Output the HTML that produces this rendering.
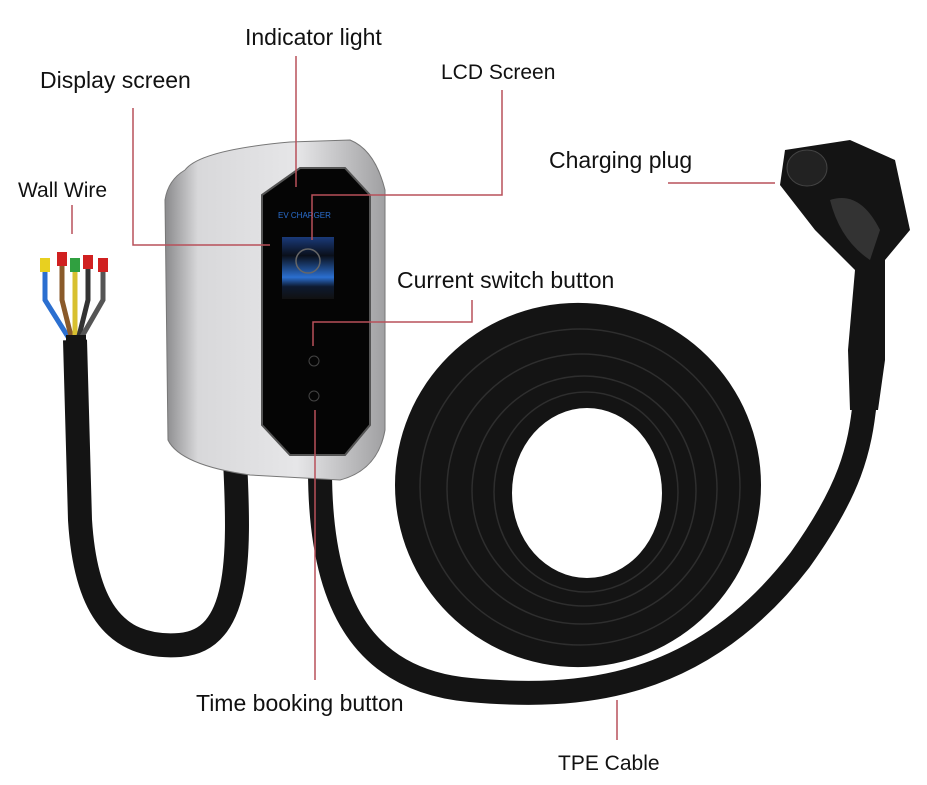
<!DOCTYPE html>
<html><head><meta charset="utf-8"><style>
html,body{margin:0;padding:0;background:#fff;}
svg{display:block;}
text{font-family:"Liberation Sans",Arial,sans-serif;font-size:23px;fill:#111;}
</style></head><body>
<svg width="927" height="785" viewBox="0 0 927 785" xmlns="http://www.w3.org/2000/svg">
<defs>
<linearGradient id="silver" x1="0" x2="1" y1="0" y2="0">
<stop offset="0" stop-color="#8a8a8c"/><stop offset="0.15" stop-color="#d8d8da"/><stop offset="0.6" stop-color="#e6e6e8"/><stop offset="1" stop-color="#a0a0a2"/>
</linearGradient>
<linearGradient id="scr" x1="0" x2="0" y1="0" y2="1">
<stop offset="0" stop-color="#1a3a7a"/><stop offset="0.3" stop-color="#0a0f1a"/><stop offset="0.65" stop-color="#2b6fd0"/><stop offset="0.8" stop-color="#0d1a30"/><stop offset="1" stop-color="#111"/>
</linearGradient>
</defs>
<!-- coil -->
<path fill="#141414" fill-rule="evenodd" d="M395 485 A183 182 0 1 0 761 485 A183 182 0 1 0 395 485 Z M512 493 A75 85 0 1 0 662 493 A75 85 0 1 0 512 493 Z"/>
<g fill="none" stroke="#2e2e2e" stroke-width="1.5">
<ellipse cx="580" cy="487" rx="160" ry="158"/>
<ellipse cx="582" cy="489" rx="135" ry="135"/>
<ellipse cx="584" cy="491" rx="112" ry="115"/>
<ellipse cx="586" cy="492" rx="92" ry="100"/>
</g>
<g fill="none" stroke="#141414" stroke-width="24">
<path d="M320 470 C320 600 360 680 470 690 C580 700 700 690 800 560 C850 490 860 450 865 400"/>
<path d="M235 460 C240 560 240 640 180 645 C110 650 85 600 80 520 L75 340"/>
</g>
<!-- wires -->
<g stroke-width="5" fill="none">
<path d="M70 340 L45 300 L45 262" stroke="#2b6fd0"/>
<path d="M72 340 L62 300 L62 255" stroke="#8a5a2a"/>
<path d="M75 340 L75 300 L75 262" stroke="#d8c030"/>
<path d="M78 340 L88 300 L88 258" stroke="#333"/>
<path d="M80 340 L103 300 L103 262" stroke="#555"/>
</g>
<g>
<rect x="40" y="258" width="10" height="14" fill="#e8d020"/>
<rect x="57" y="252" width="10" height="14" fill="#d02020"/>
<rect x="70" y="258" width="10" height="14" fill="#30a040"/>
<rect x="83" y="255" width="10" height="14" fill="#d02020"/>
<rect x="98" y="258" width="10" height="14" fill="#d02020"/>
</g>
<rect x="66" y="335" width="20" height="20" fill="#141414"/>
<!-- device -->
<path d="M185 170 Q200 150 290 142 L350 140 Q375 150 385 190 L385 430 Q378 470 340 480 L250 475 Q180 465 168 440 L165 200 Q168 180 185 170Z" fill="url(#silver)" stroke="#777" stroke-width="1"/>
<path d="M262 195 L300 168 L345 168 L370 195 L370 425 L345 455 L290 455 L262 425Z" fill="#050505" stroke="#555" stroke-width="2"/>
<rect x="282" y="237" width="52" height="62" fill="url(#scr)"/>
<circle cx="308" cy="261" r="12" fill="none" stroke="#666" stroke-width="1.5"/>
<text x="278" y="218" style="font-size:8px;fill:#2b6fd0">EV CHARGER</text>
<circle cx="314" cy="361" r="5" fill="none" stroke="#444"/>
<circle cx="314" cy="396" r="5" fill="none" stroke="#444"/>
<!-- plug -->
<path d="M785 150 L850 140 L895 160 L910 230 L885 260 L885 360 L878 410 L850 410 L848 350 L855 270 L815 230 L780 185Z" fill="#141414"/>
<path d="M830 200 Q860 190 880 230 L870 260 Q840 240 830 200Z" fill="#333"/>
<ellipse cx="807" cy="168" rx="20" ry="18" fill="#222" stroke="#444"/>
<!-- leader lines -->
<g stroke="#b8505a" stroke-width="1.5" fill="none">
<path d="M296 56 L296 187"/>
<path d="M133 108 L133 245 L270 245"/>
<path d="M502 90 L502 195 L312 195 L312 240"/>
<path d="M72 205 L72 234"/>
<path d="M668 183 L775 183"/>
<path d="M472 300 L472 322 L313 322 L313 346"/>
<path d="M315 410 L315 680"/>
<path d="M617 700 L617 740"/>
</g>
<text x="245" y="45">Indicator light</text>
<text x="40" y="88">Display screen</text>
<text x="441" y="79" style="font-size:21px">LCD Screen</text>
<text x="18" y="197" style="font-size:21px">Wall Wire</text>
<text x="549" y="168">Charging plug</text>
<text x="397" y="288">Current switch button</text>
<text x="196" y="711">Time booking button</text>
<text x="558" y="770" style="font-size:21px">TPE Cable</text>
</svg>
</body></html>
